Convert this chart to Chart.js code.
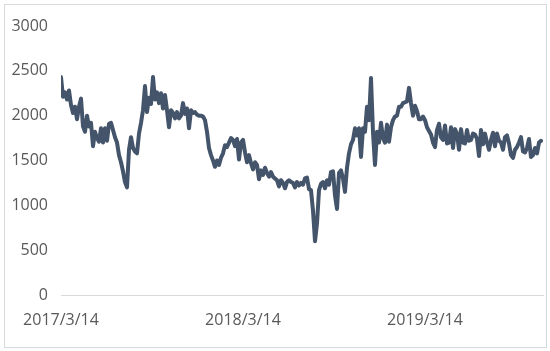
<!DOCTYPE html>
<html>
<head>
<meta charset="utf-8">
<script src="https://cdn.jsdelivr.net/npm/chart.js@4/dist/chart.umd.min.js"></script>
<style>
  body { margin: 0; background: #fff; }
  #wrap { position: relative; width: 550px; height: 351px; }
  #frame { position: absolute; left: 4px; top: 4px; width: 541px; height: 342px; border: 1px solid #d9d9d9; pointer-events: none; }
  canvas { position: absolute; left: 0; top: 0; }
</style>
</head>
<body>
<div id="wrap">
  <canvas id="myChart" width="550" height="351"></canvas>
  <div id="frame"></div>
</div>
<script>
//--------------------- Data ---------------------

// one value every ~4 days
const prices = [
  2430, 2210, 2260, 2180, 2280, 2120, 2030, 2100, 1960, 2100,
  2190, 1880, 1820, 2000, 1880, 1920, 1660, 1820, 1750, 1710,
  1860, 1700, 1860, 1720, 1910, 1920, 1840, 1760, 1700, 1560,
  1480, 1380, 1260, 1200, 1620, 1760, 1640, 1600, 1580, 1800,
  1920, 2060, 2330, 2040, 2200, 2130, 2430, 2180, 2260, 2140,
  2250, 2080, 2230, 2060, 1870, 2060, 2030, 1970, 2040, 1970,
  2000, 2140, 2020, 2080, 1860, 2060, 2030, 2040, 2010, 2000,
  2000, 1990, 1950, 1820, 1640, 1560, 1500, 1430, 1500, 1450,
  1530, 1580, 1670, 1650, 1700, 1750, 1730, 1660, 1740, 1510,
  1700, 1730, 1590, 1480, 1560, 1470, 1400, 1480, 1450, 1290,
  1390, 1340, 1420, 1360, 1320, 1370, 1320, 1300, 1280, 1210,
  1280, 1250, 1190, 1260, 1280, 1260, 1250, 1200, 1260, 1220,
  1250, 1230, 1300, 1310, 1180, 1170, 940, 600, 800, 1170,
  1240, 1260, 1190, 1280, 1230, 1370, 1380, 1110, 960, 1360,
  1390, 1300, 1150, 1420, 1580, 1680, 1730, 1860, 1780, 1860,
  1540, 1860, 1820, 2100, 1950, 2420, 1810, 1450, 1820, 1700,
  1920, 1750, 1700, 1900, 1710, 1870, 1950, 1990, 2000, 2100,
  2100, 2140, 2150, 2160, 2310, 2140, 2000, 2110, 2050, 1960,
  1960, 1990, 1950, 1870, 1830, 1790, 1700, 1650, 1840, 1910,
  1760, 1730, 1890, 1690, 1700, 1870, 1640, 1850, 1800, 1620,
  1850, 1700, 1690, 1840, 1720, 1730, 1800, 1790, 1740, 1550,
  1840, 1680, 1800, 1700, 1620, 1730, 1810, 1660, 1800, 1720,
  1700, 1620, 1760, 1780, 1690, 1560, 1530, 1620, 1650, 1700,
  1760, 1600, 1590, 1640, 1740, 1540, 1560, 1640, 1580, 1700,
  1720,
];

const tickIndex = [0, 91, 182];
const tickLabels = ["2017/3/14", "2018/3/14", "2019/3/14"];

//--------------------- Chart ---------------------

const ctx = document.getElementById("myChart").getContext("2d");
const labelFont = { family: "'Open Sans', 'Noto Sans', sans-serif", size: 16 };

new Chart(ctx, {
  type: "line",
  data: {
    datasets: [
      {
        data: prices.map((p, i) => ({ x: i, y: p })),
        borderColor: "#44546a",
        borderWidth: 4,
        borderJoinStyle: "round",
        borderCapStyle: "round",
        pointRadius: 0,
        tension: 0,
        fill: false,
      },
    ],
  },
  options: {
    responsive: false,
    animation: false,
    layout: { padding: { top: 26, right: 7, left: 0, bottom: 0 } },
    plugins: { legend: { display: false }, tooltip: { enabled: false } },
    scales: {
      x: {
        type: "linear",
        min: 0,
        max: 241,
        grid: { display: false, drawTicks: false },
        border: { display: true, color: "#d9d9d9", width: 1 },
        afterBuildTicks: (axis) => {
          axis.ticks = tickIndex.map((v) => ({ value: v }));
        },
        afterFit: (axis) => {
          axis.height = 56;
        },
        ticks: {
          autoSkip: false,
          maxRotation: 0,
          padding: 16,
          color: "#595959",
          font: labelFont,
          callback: (v) => tickLabels[tickIndex.indexOf(v)] || "",
        },
      },
      y: {
        min: 0,
        max: 3000,
        grid: { display: false, drawTicks: false },
        border: { display: false },
        afterFit: (axis) => {
          axis.width = 61;
        },
        ticks: {
          stepSize: 500,
          padding: 13,
          color: "#595959",
          font: labelFont,
          callback: (v) => String(v),
        },
      },
    },
  },
});
</script>
</body>
</html>
